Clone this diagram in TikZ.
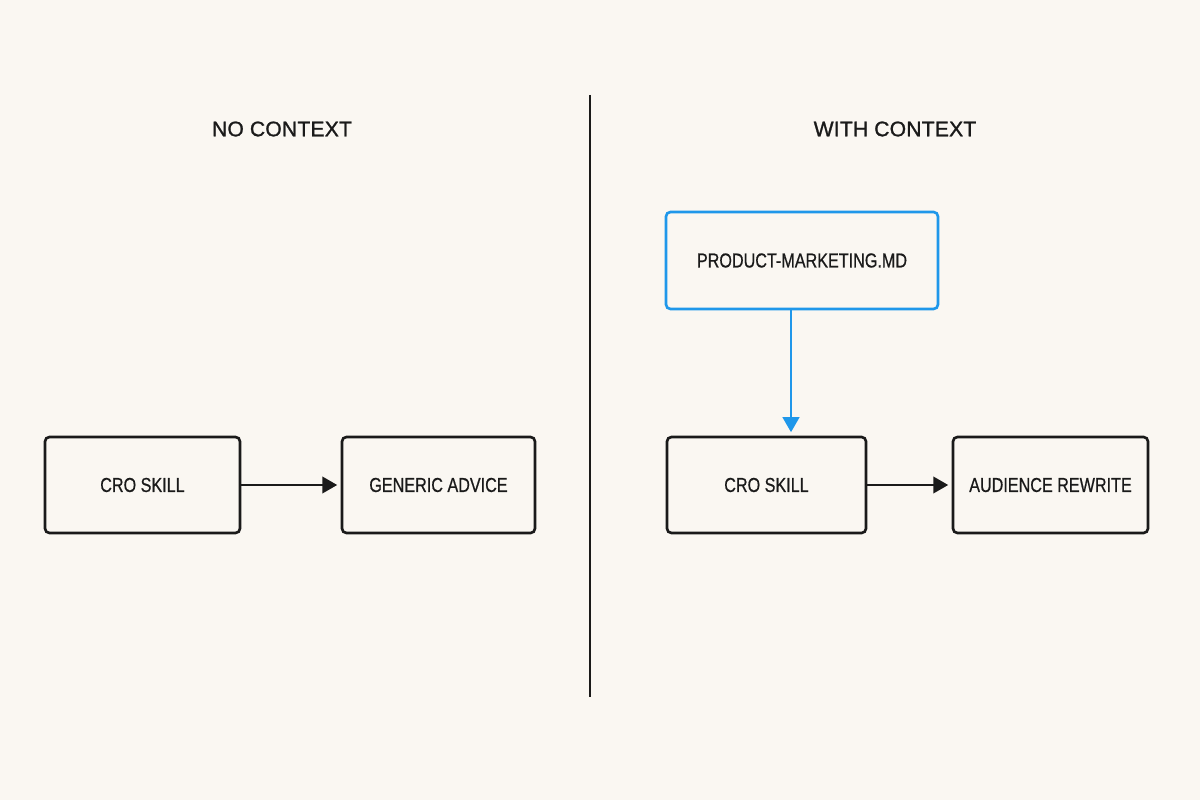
\documentclass[tikz,border=0pt]{standalone}
\usepackage{fontspec}
\setmainfont{Liberation Sans}
\newfontfamily\boxfont[FakeStretch=0.8,FakeBold=0.6]{Liberation Sans}
\newfontfamily\headfont[FakeBold=1.2,LetterSpace=1]{Liberation Sans}
\usetikzlibrary{arrows.meta}
\definecolor{paper}{HTML}{FAF7F2}
\definecolor{ink}{HTML}{1A1A1A}
\definecolor{fileblue}{HTML}{1F97EA}
\begin{document}
\begin{tikzpicture}[
    x=0.02cm, y=-0.02cm,
    stage/.style={draw=ink, line width=1.5pt, rounded corners=2.5pt, minimum height=1.92cm,
        text=ink, font=\boxfont\fontsize{11.5}{13}\selectfont, inner sep=0pt},
    filebox/.style={stage, draw=fileblue},
    heading/.style={text=ink, font=\headfont\fontsize{12}{14}\selectfont},
    flow/.style={-{Triangle[length=8.5pt,width=9.5pt]}, line width=1.1pt, draw=ink, shorten >=2pt},
    feed/.style={flow, draw=fileblue, fill=fileblue}
]

\fill[paper] (0,0) rectangle (1200,800);

% divider
\draw[ink, line width=1.2pt] (590,95) -- (590,697);

% left side
\node[heading] (nohead) at (282,129) {NO CONTEXT};
\node[stage, minimum width=3.9cm]  (crol) at (142.5,485) {CRO SKILL};
\node[stage, minimum width=3.86cm] (gen)  at (438.5,485) {GENERIC ADVICE};
\draw[flow] (crol) -- (gen);

% right side
\node[heading] (withhead) at (895,129) {WITH CONTEXT};
\node[filebox, minimum width=5.44cm, minimum height=1.94cm] (pm) at (802,260.5) {PRODUCT-MARKETING.MD};
\node[stage, minimum width=3.98cm] (cror) at (766.5,485) {CRO SKILL};
\node[stage, minimum width=3.9cm]  (aud)  at (1050.5,485) {AUDIENCE REWRITE};
\coordinate (drop) at (791,0);
\draw[feed] (pm.south -| drop) -- (cror.north -| drop);
\draw[flow] (cror) -- (aud);

\end{tikzpicture}
\end{document}
